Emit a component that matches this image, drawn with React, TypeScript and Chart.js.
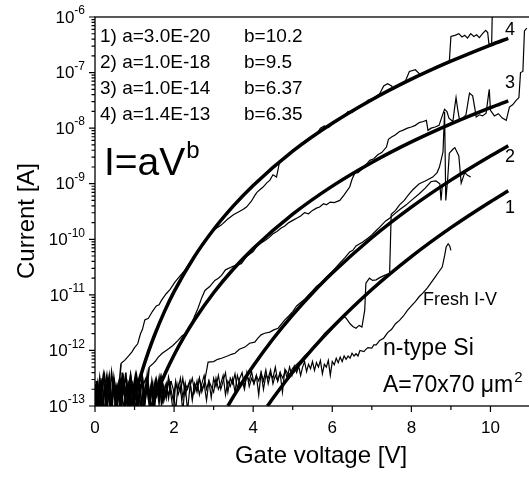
import React, { useEffect, useRef } from "react";
import { Chart, registerables } from "chart.js";
Chart.register(...registerables);

// ---- axis ticks ----
const X_TICKS = [0, 1, 2, 3, 4, 5, 6, 7, 8, 9, 10, 11];
const X_LABELED = [0, 2, 4, 6, 8, 10];
const Y_DECADES = [-13, -12, -11, -10, -9, -8, -7, -6];

// ---- voltage grids for the low-voltage noise floor (V) ----
const VN = [0,0.06,0.12,0.18,0.24,0.3,0.36,0.42,0.48,0.54,0.6,0.66,0.72,0.78,0.84,0.9,0.96,1.02,1.08,1.14,1.2,1.26,1.32,1.38,1.44,1.5,1.56,1.62,1.68,1.74,1.8,1.86,1.92,1.98,2.04,2.1,2.16,2.22,2.28,2.34,2.4,2.46,2.52,2.58,2.64,2.7,2.76,2.82,2.88,2.94,3.0,3.06,3.12,3.18,3.24,3.3,3.36,3.42,3.48,3.54,3.6,3.66,3.72,3.78,3.84,3.9,3.96,4.02,4.08,4.14,4.2,4.26,4.32,4.38,4.44,4.5,4.56,4.62,4.68,4.74,4.8,4.86,4.92,4.98];
const VH = [0.03,0.09,0.15,0.21,0.27,0.33,0.39,0.45,0.51,0.57,0.63,0.69,0.75,0.81,0.87,0.93,0.99,1.05,1.11,1.17,1.23,1.29,1.35,1.41,1.47,1.53,1.59,1.65,1.71,1.77];

// ---- measured curves: log10(I) ----
const freshNoiseLog = [-12.8,-13.2,-12.6,-12.95,-12.7,-13.1,-12.55,-12.9,-13.2,-12.65,-12.85,-12.5,-13.1,-12.75,-12.6,-13.05,-12.7,-12.45,-12.95,-12.6,-13.15,-12.7,-12.5,-12.9,-12.65,-13.1,-12.55,-12.8,-12.6,-12.9,-12.7,-12.55,-12.8,-13.1,-12.6,-12.7,-12.5,-12.85,-12.6,-13.1,-12.65,-12.5,-12.75,-12.55,-12.8,-12.6,-12.45,-12.7,-12.55,-12.85,-12.5,-12.65,-12.45,-12.7,-12.55,-12.4,-12.75,-12.5,-12.6,-12.42,-12.7,-12.5,-12.4,-12.65,-12.45,-12.55,-12.38,-12.6,-12.45,-12.8,-12.4,-12.55,-12.35,-12.6,-12.42,-12.5,-12.3,-12.55,-12.4,-12.75,-12.35,-12.5,-12.3,-12.45];
const freshTail: [number, number][] = [[5.04,-12.28],[5.1,-12.4],[5.15,-12.28],[5.2,-12.45],[5.25,-12.3],[5.3,-12.2],[5.35,-12.38],[5.4,-12.25],[5.45,-12.33],[5.5,-12.2],[5.55,-12.36],[5.6,-12.22],[5.65,-12.3],[5.7,-12.18],[5.75,-12.42],[5.8,-12.25],[5.85,-12.3],[5.9,-12.18],[5.95,-12.45],[6.0,-12.2],[6.05,-12.26],[6.1,-12.14],[6.15,-12.22],[6.2,-12.12],[6.25,-12.2],[6.3,-12.1],[6.35,-12.16],[6.4,-12.1],[6.45,-12.14],[6.5,-12.05],[6.55,-12.1],[6.6,-12.06],[6.65,-12.1],[6.7,-12.0],[6.8,-12.02],[6.85,-11.98],[6.9,-11.95],[7.0,-11.96],[7.05,-11.9],[7.11,-11.9],[7.2,-11.82],[7.3,-11.78],[7.4,-11.68],[7.5,-11.62],[7.6,-11.52],[7.7,-11.46],[7.8,-11.38],[7.9,-11.28],[8.0,-11.2],[8.1,-11.12],[8.2,-11.03],[8.29,-10.97],[8.4,-10.88],[8.5,-10.78],[8.6,-10.68],[8.7,-10.58],[8.78,-10.5],[8.84,-10.3],[8.88,-10.14],[8.93,-10.08],[8.97,-10.12],[9.0,-10.2]];

const reverseNoiseLog = [-12.55,-13.1,-12.75,-12.45,-12.95,-12.6,-13.2,-12.5,-12.85,-12.65,-13.05,-12.4,-12.8,-12.6,-13.15,-12.55,-12.9,-12.45,-12.7,-13.1,-12.6,-12.5,-12.85,-12.65,-13.0,-12.55,-12.75,-12.5,-12.9,-12.7];

const d1NoiseLog = [-13.1,-12.6,-12.9,-12.5,-13.2,-12.7,-12.45,-13.0,-12.6,-12.85,-13.2,-12.55,-12.75,-12.4,-13.1,-12.65,-12.9,-12.5,-13.2,-12.7,-12.6,-12.95,-12.45,-12.8,-13.15,-12.6,-12.75,-12.5,-12.95,-12.65,-12.85,-12.5,-12.7,-12.9,-12.55,-12.8,-12.65,-13.1,-12.6,-12.7,-12.55,-12.85,-12.6,-12.75,-12.5,-12.7,-12.6,-12.9,-12.55,-12.65,-12.75,-12.5,-12.7,-12.6,-12.45,-12.8,-12.55,-12.65,-12.5,-12.75,-12.45,-12.6,-12.55,-12.7,-12.4,-12.65,-12.5,-12.6,-12.45,-12.55,-12.4,-12.7,-12.45,-12.5,-12.35,-12.6,-12.45,-12.55,-12.4];
const d1Tail: [number, number][] = [[4.75,-12.5],[4.82,-12.35],[4.9,-12.45],[5.0,-12.32],[5.1,-12.25],[5.2,-12.18],[5.3,-12.1],[5.4,-12.03],[5.5,-11.95],[5.6,-11.88],[5.7,-11.8],[5.8,-11.7],[5.9,-11.63],[6.0,-11.57],[6.1,-11.5],[6.2,-11.43],[6.27,-11.38],[6.35,-11.42],[6.45,-11.52],[6.52,-11.57],[6.6,-11.6],[6.68,-11.55],[6.75,-11.58],[6.82,-11.28],[6.85,-10.79],[6.94,-10.7],[7.02,-10.74],[7.11,-10.73],[7.2,-10.69],[7.32,-10.65],[7.45,-10.61],[7.49,-9.55],[7.6,-9.48],[7.7,-9.38],[7.82,-9.3],[7.95,-9.18],[8.05,-9.1],[8.2,-9.0],[8.35,-8.95],[8.54,-8.88],[8.65,-8.8],[8.71,-8.7],[8.8,-8.43],[8.84,-7.71],[8.87,-9.3],[8.92,-8.9],[8.96,-8.45],[9.05,-8.38],[9.1,-8.35],[9.2,-8.5],[9.26,-8.99],[9.35,-8.8],[9.42,-8.85],[9.5,-8.88]];

const d2NoiseLog = [-12.7,-13.0,-12.5,-12.85,-13.2,-12.6,-12.9,-12.4,-12.75,-13.1,-12.6,-12.8,-12.55,-13.0,-12.7,-12.45,-12.9,-12.6,-13.15,-12.7,-12.5,-12.85,-12.65,-13.05,-12.55,-12.8,-12.6,-12.95,-12.5,-12.75,-12.6,-12.85,-12.55,-12.7,-13.1,-12.6,-12.75,-12.5,-12.8,-12.65,-12.55,-12.9,-12.6,-12.7,-12.5,-12.75,-12.6];
const d2Tail: [number, number][] = [[2.86,-12.21],[3.0,-12.2],[3.1,-12.16],[3.2,-12.14],[3.35,-12.1],[3.45,-12.07],[3.54,-12.05],[3.65,-11.98],[3.79,-11.94],[3.91,-11.87],[4.04,-11.85],[4.12,-11.78],[4.2,-11.72],[4.29,-11.69],[4.42,-11.67],[4.52,-11.63],[4.63,-11.6],[4.8,-11.45],[4.9,-11.38],[5.0,-11.3],[5.1,-11.2],[5.18,-11.15],[5.3,-11.08],[5.4,-11.0],[5.5,-10.93],[5.6,-10.85],[5.72,-10.78],[5.85,-10.68],[6.0,-10.58],[6.1,-10.5],[6.2,-10.42],[6.32,-10.33],[6.44,-10.23],[6.52,-10.2],[6.6,-10.12],[6.77,-10.05],[6.9,-9.98],[7.0,-9.92],[7.1,-9.85],[7.2,-9.78],[7.35,-9.67],[7.45,-9.62],[7.53,-9.57],[7.7,-9.47],[7.87,-9.38],[8.0,-9.3],[8.2,-9.18],[8.35,-9.08],[8.5,-8.96],[8.62,-8.95],[8.72,-9.0],[8.75,-9.3],[8.78,-9.05]];

const d3NoiseLog = [-12.9,-12.55,-13.1,-12.7,-12.45,-12.95,-12.6,-13.2,-12.5,-12.8,-12.65,-13.0,-12.5,-12.75,-12.9,-12.45,-12.7,-13.1,-12.6,-12.8,-12.5,-12.95,-12.65];
const d3Tail: [number, number][] = [[1.37,-12.3],[1.45,-12.25],[1.52,-12.2],[1.6,-12.12],[1.7,-12.05],[1.8,-12.0],[1.88,-11.96],[1.97,-11.91],[2.1,-11.82],[2.2,-11.74],[2.28,-11.7],[2.35,-11.64],[2.45,-11.5],[2.52,-11.38],[2.6,-11.25],[2.7,-11.05],[2.78,-10.92],[2.9,-10.85],[3.03,-10.74],[3.12,-10.7],[3.2,-10.65],[3.3,-10.55],[3.45,-10.5],[3.55,-10.47],[3.7,-10.44],[3.78,-10.36],[3.85,-10.3],[4.0,-10.22],[4.1,-10.12],[4.21,-10.06],[4.3,-10.02],[4.4,-9.97],[4.5,-9.9],[4.6,-9.86],[4.7,-9.8],[4.8,-9.76],[4.9,-9.7],[5.0,-9.66],[5.1,-9.62],[5.2,-9.58],[5.3,-9.52],[5.4,-9.54],[5.5,-9.48],[5.6,-9.44],[5.68,-9.42],[5.78,-9.36],[5.85,-9.38],[5.95,-9.33],[6.05,-9.34],[6.19,-9.3],[6.3,-9.2],[6.38,-9.12],[6.44,-9.06],[6.5,-8.92],[6.57,-8.81],[6.65,-8.8],[6.75,-8.74],[6.85,-8.66],[6.95,-8.58],[7.05,-8.55],[7.15,-8.48],[7.25,-8.44],[7.37,-8.34],[7.42,-8.2],[7.5,-8.16],[7.6,-8.12],[7.7,-8.06],[7.78,-8.04],[7.9,-8.0],[8.0,-7.98],[8.1,-7.95],[8.2,-7.9],[8.3,-7.88],[8.38,-7.86],[8.42,-8.04],[8.5,-8.0],[8.6,-7.98],[8.7,-7.95],[8.78,-7.78],[8.84,-7.66],[8.9,-7.7],[8.95,-7.82],[9.05,-7.88],[9.1,-7.6],[9.13,-7.45],[9.18,-7.7],[9.22,-7.86],[9.3,-7.82],[9.38,-7.76],[9.44,-7.5],[9.47,-7.37],[9.55,-7.42],[9.6,-7.62],[9.64,-7.8],[9.72,-7.76],[9.8,-7.78],[9.89,-7.73],[9.95,-7.4],[9.97,-7.3],[10.0,-7.68],[10.1,-7.78],[10.2,-7.74],[10.3,-7.82],[10.4,-7.86],[10.48,-7.62],[10.56,-7.58],[10.65,-7.5],[10.72,-7.45],[10.76,-7.0],[10.82,-6.98],[10.86,-6.25],[10.92,-6.2]];

const d4NoiseLog = [-12.6,-12.95,-12.5,-13.15,-12.7,-12.45,-12.85,-13.0,-12.55,-12.8,-12.7];
const d4Tail: [number, number][] = [[0.66,-12.23],[0.75,-12.18],[0.85,-12.1],[0.93,-12.03],[1.0,-11.95],[1.08,-11.88],[1.15,-11.7],[1.2,-11.62],[1.26,-11.45],[1.35,-11.42],[1.45,-11.3],[1.55,-11.2],[1.62,-11.18],[1.68,-11.1],[1.8,-10.98],[1.9,-10.9],[2.02,-10.77],[2.15,-10.66],[2.27,-10.56],[2.4,-10.42],[2.5,-10.33],[2.6,-10.22],[2.7,-10.1],[2.78,-10.02],[2.9,-9.92],[3.0,-9.84],[3.07,-9.8],[3.2,-9.74],[3.35,-9.64],[3.5,-9.56],[3.65,-9.5],[3.75,-9.46],[3.83,-9.42],[3.95,-9.32],[4.05,-9.2],[4.1,-9.15],[4.25,-9.06],[4.35,-8.98],[4.42,-8.94],[4.5,-8.84],[4.59,-8.88],[4.67,-8.6],[4.8,-8.52],[4.9,-8.46],[5.0,-8.4],[5.15,-8.33],[5.3,-8.27],[5.45,-8.18],[5.6,-8.11],[5.7,-8.0],[5.8,-7.96],[5.9,-7.99],[6.0,-7.93],[6.15,-7.86],[6.3,-7.78],[6.4,-7.7],[6.5,-7.72],[6.6,-7.66],[6.69,-7.6],[6.75,-7.6],[6.9,-7.5],[7.05,-7.46],[7.2,-7.38],[7.3,-7.24],[7.4,-7.2],[7.5,-7.24],[7.55,-7.3],[7.7,-7.22],[7.85,-7.15],[7.95,-6.98],[8.1,-6.95],[8.2,-7.02],[8.3,-7.02],[8.4,-6.97],[8.5,-6.96],[8.6,-6.9],[8.7,-6.87],[8.8,-6.84],[8.96,-6.8],[9.0,-6.35],[9.1,-6.33],[9.2,-6.3],[9.28,-6.36],[9.35,-6.33],[9.42,-6.38],[9.5,-6.3],[9.58,-6.35],[9.65,-6.32],[9.72,-6.37],[9.8,-6.3],[9.88,-6.24],[9.93,-6.28],[9.96,-6.48],[10.03,-6.5],[10.05,-5.8]];

// ---- power-law fits I = a V^b: [V, log10 I] ----
const fit1: [number, number][] = [[4.36,-13.0],[4.5,-12.86],[4.75,-12.621],[5,-12.393],[5.5,-11.971],[6,-11.586],[7,-10.903],[8,-10.311],[9,-9.79],[10,-9.323],[10.45,-9.128]];
const fit2: [number, number][] = [[3.36,-13.0],[3.5,-12.831],[3.75,-12.547],[4,-12.28],[4.5,-11.795],[5,-11.36],[5.5,-10.967],[6,-10.608],[7,-9.972],[8,-9.421],[9,-8.935],[10,-8.5],[10.45,-8.318]];
const fit3: [number, number][] = [[1.44,-12.991],[1.5,-12.878],[1.6,-12.7],[1.8,-12.374],[2,-12.082],[2.25,-11.757],[2.5,-11.465],[3,-10.961],[3.5,-10.534],[4,-10.165],[5,-9.548],[6,-9.043],[7,-8.617],[8,-8.247],[9,-7.922],[10,-7.63],[10.45,-7.508]];
const fit4: [number, number][] = [[0.95,-12.995],[1.0,-12.854],[1.1,-12.591],[1.2,-12.351],[1.35,-12.026],[1.5,-11.736],[1.75,-11.311],[2,-10.942],[2.5,-10.327],[3,-9.824],[3.5,-9.399],[4,-9.031],[5,-8.415],[6,-7.913],[7,-7.488],[8,-7.119],[9,-6.795],[10,-6.504],[10.45,-6.383]];

const LEGEND_ROWS = [
  ["1) a=3.0E-20", "b=10.2"],
  ["2) a=1.0E-18", "b=9.5"],
  ["3) a=1.0E-14", "b=6.37"],
  ["4) a=1.4E-13", "b=6.35"],
];
const CURVE_LABELS = ["4", "3", "2", "1"];

const FONT = '"Liberation Sans", Arial, sans-serif';

function toPts(grid: number[], noise: number[], tail: [number, number][]) {
  const a = noise.map((l, i) => ({ x: grid[i], y: Math.pow(10, l) }));
  const b = tail.map(([v, l]) => ({ x: v, y: Math.pow(10, l) }));
  return a.concat(b);
}
function fitPts(f: [number, number][]) {
  return f.map(([v, l]) => ({ x: v, y: Math.pow(10, l) }));
}

const decorPlugin = {
  id: "decor",
  afterDraw(chart: any) {
    const { ctx, chartArea: a, scales } = chart;
    const xs = scales.x, ys = scales.y;
    ctx.save();
    ctx.strokeStyle = "#000";
    ctx.fillStyle = "#000";
    ctx.lineWidth = 1.3;
    ctx.strokeRect(a.left, a.top, a.right - a.left, a.bottom - a.top);
    ctx.lineWidth = 1.2;
    ctx.beginPath();
    X_TICKS.forEach((v) => {
      const px = xs.getPixelForValue(v);
      const len = X_LABELED.includes(v) ? 6 : 4;
      ctx.moveTo(px, a.bottom);
      ctx.lineTo(px, a.bottom + len);
    });
    Y_DECADES.forEach((e) => {
      const py = ys.getPixelForValue(Math.pow(10, e));
      ctx.moveTo(a.left - 6, py);
      ctx.lineTo(a.left, py);
      if (e < -6) {
        for (let m = 2; m <= 9; m++) {
          const p2 = ys.getPixelForValue(m * Math.pow(10, e));
          ctx.moveTo(a.left - 3.5, p2);
          ctx.lineTo(a.left, p2);
        }
      }
    });
    ctx.stroke();
    ctx.font = `17px ${FONT}`;
    ctx.textAlign = "center";
    ctx.textBaseline = "middle";
    X_LABELED.forEach((v) => {
      ctx.fillText(String(v), xs.getPixelForValue(v), a.bottom + 22);
    });
    const rightEdge = a.left - 10;
    Y_DECADES.forEach((e) => {
      const py = ys.getPixelForValue(Math.pow(10, e));
      ctx.font = `12px ${FONT}`;
      const sup = String(e);
      const sw = ctx.measureText(sup).width;
      ctx.textAlign = "left";
      ctx.textBaseline = "middle";
      ctx.fillText(sup, rightEdge - sw, py - 6);
      ctx.font = `17px ${FONT}`;
      ctx.textAlign = "right";
      ctx.fillText("10", rightEdge - sw, py + 1);
    });
    ctx.font = `24px ${FONT}`;
    ctx.textAlign = "center";
    ctx.textBaseline = "middle";
    ctx.fillText("Gate voltage [V]", 321, 456);
    ctx.save();
    ctx.translate(27, 221);
    ctx.rotate(-Math.PI / 2);
    ctx.fillText("Current [A]", 0, 0);
    ctx.restore();
    ctx.font = `19px ${FONT}`;
    ctx.textAlign = "left";
    ctx.textBaseline = "middle";
    const rowY = [37, 63, 89, 115];
    LEGEND_ROWS.forEach((r, i) => {
      ctx.fillText(r[0], 100, rowY[i]);
      ctx.fillText(r[1], 244, rowY[i]);
    });
    ctx.textBaseline = "alphabetic";
    ctx.font = `39px ${FONT}`;
    ctx.fillText("I=aV", 104, 175);
    const w = ctx.measureText("I=aV").width;
    ctx.font = `24px ${FONT}`;
    ctx.fillText("b", 104 + w + 1, 158);
    ctx.font = `18px ${FONT}`;
    ctx.textBaseline = "middle";
    ctx.fillText("Fresh I-V", 423, 300);
    ctx.font = `23px ${FONT}`;
    ctx.textBaseline = "alphabetic";
    ctx.fillText("n-type Si", 383, 355);
    ctx.fillText("A=70x70 \u03bcm", 383, 392);
    const w2 = ctx.measureText("A=70x70 \u03bcm").width;
    ctx.font = `15px ${FONT}`;
    ctx.fillText("2", 383 + w2 + 1, 382);
    ctx.font = `18px ${FONT}`;
    ctx.textAlign = "center";
    ctx.textBaseline = "middle";
    const labY = [30, 83, 157, 208];
    CURVE_LABELS.forEach((t, i) => ctx.fillText(t, 510, labY[i]));
    ctx.restore();
  },
};

export default function App() {
  const ref = useRef<HTMLCanvasElement | null>(null);
  useEffect(() => {
    if (!ref.current) return;
    const thin = (data: any[]) => ({
      data,
      borderColor: "#000",
      borderWidth: 1.2,
      pointRadius: 0,
      tension: 0,
      fill: false,
      segment: {
        borderWidth: (c: any) => (c.p0.parsed.x < 1.9 && c.p0.parsed.y < 4e-13 ? 1.6 : 1.2),
      },
    });
    const thick = (data: any[]) => ({
      data,
      borderColor: "#000",
      borderWidth: 3.5,
      pointRadius: 0,
      cubicInterpolationMode: "monotone",
      fill: false,
    });
    const chart = new Chart(ref.current, {
      type: "line",
      data: {
        datasets: [
          thin(toPts(VN, freshNoiseLog, freshTail)),
          thin(toPts(VH, reverseNoiseLog, [])),
          thin(toPts(VN, d1NoiseLog, d1Tail)),
          thin(toPts(VN, d2NoiseLog, d2Tail)),
          thin(toPts(VN, d3NoiseLog, d3Tail)),
          thin(toPts(VN, d4NoiseLog, d4Tail)),
          thick(fitPts(fit1)),
          thick(fitPts(fit2)),
          thick(fitPts(fit3)),
          thick(fitPts(fit4)),
        ] as any,
      },
      options: {
        animation: false,
        responsive: false,
        devicePixelRatio: 1,
        layout: { padding: { left: 0, top: 17, right: 10, bottom: 0 } },
        plugins: { legend: { display: false }, tooltip: { enabled: false } },
        scales: {
          x: {
            type: "linear",
            min: 0,
            max: 11,
            grid: { display: false },
            border: { display: false },
            ticks: { display: false },
            afterFit: (s: any) => { s.height = 71; },
          },
          y: {
            type: "logarithmic",
            min: 1e-13,
            max: 1e-6,
            grid: { display: false },
            border: { display: false },
            ticks: { display: false },
            afterFit: (s: any) => { s.width = 95; },
          },
        },
      } as any,
      plugins: [decorPlugin],
    });
    return () => chart.destroy();
  }, []);
  return (
    <div style={{ position: "fixed", left: 0, top: 0, width: 540, height: 477, background: "#fff" }}>
      <canvas ref={ref} width={540} height={477} style={{ display: "block", width: 540, height: 477 }} />
    </div>
  );
}
